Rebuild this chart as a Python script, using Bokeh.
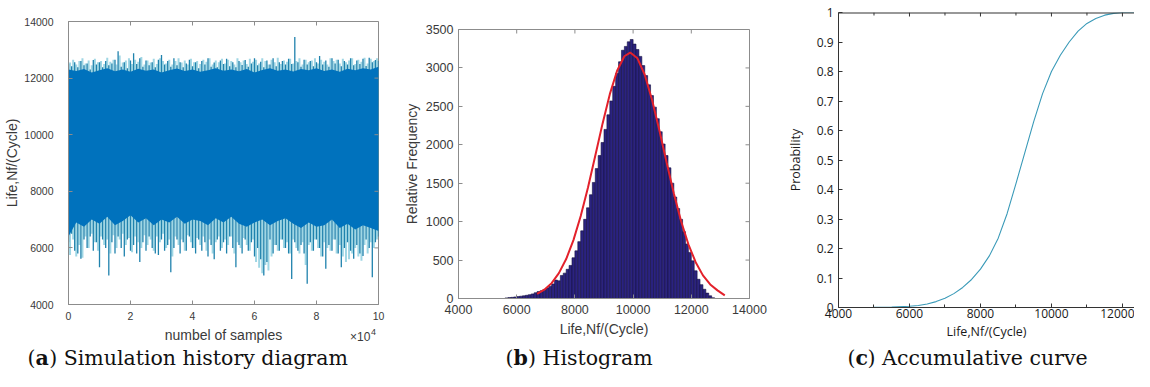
import numpy as np
from bokeh.plotting import figure
from bokeh.layouts import row, column
from bokeh.models import (FixedTicker, Label, Range1d, ColumnDataSource,
                          PrintfTickFormatter, Span)
from bokeh.embed import file_html
from bokeh.resources import INLINE

# ---------------- (a) simulation history: read-off envelopes ----------------
# spikes every 0.1 x 10^4 samples (top and bottom extremes of the trace)
top_spike = [12500, 12420, 12560, 12380, 12600, 12450, 12520, 12300, 12640, 12480,
             12560, 12380, 12600, 12450, 12520, 12650, 12950, 12400, 12560, 12350,
             12620, 12880, 12500, 12700, 12400, 12620, 12450, 12560, 12380, 12650,
             12820, 12480, 12600, 12400, 12700, 12450, 12560, 12380, 12520, 12650,
             12420, 12560, 12350, 12600, 12480, 12700, 12400, 12550, 12380, 12620,
             12500, 12680, 12420, 12560, 12380, 12600, 12460, 12640, 12400, 12520,
             12700, 12450, 12580, 12380, 12620, 12480, 12700, 12420, 12560, 12600,
             12480, 12680, 12500, 13450, 12560, 12400, 12650, 12480, 12600, 12420,
             12560, 12780, 12480, 12620, 12400, 12700, 12520, 12650, 12420, 12600,
             12480, 12700, 12450, 12620, 12500, 12680, 12430, 12720, 12560, 12640,
             12600]
bottom_spike = [6200, 6500, 5900, 5800, 5620, 6300, 6000, 6400, 5900, 6200,
                5320, 6300, 6000, 5025, 6200, 5800, 6400, 6000, 5700, 6300,
                5900, 6100, 5800, 5500, 6200, 5900, 6400, 6000, 5800, 5750,
                6300, 5900, 6100, 5140, 6000, 6300, 5800, 6200, 5900, 6400,
                6000, 5800, 6300, 5900, 6200, 5700, 6100, 5600, 6300, 5900,
                6200, 5800, 6400, 6000, 5320, 6100, 5800, 6300, 5900, 6200,
                5700, 6000, 5600, 5025, 5500, 6300, 5800, 6100, 5900, 6300,
                6000, 5800, 4900, 6200, 5900, 6100, 5800, 4730, 6200, 5900,
                6300, 6000, 5700, 5260, 6100, 5900, 6300, 5800, 5320, 6000,
                6200, 5900, 5620, 6100, 5800, 5710, 6300, 6000, 4960, 6200,
                6400]
# lighter trace excursions, half-way between the above
light_top = [12550, 12650, 12480, 12600, 12700, 12520, 12620, 12450, 12680, 12560,
             12600, 12500, 12720, 12580, 12650, 12480, 12800, 12550, 12620, 12700,
             12500, 12650, 12580, 12750, 12480, 12620, 12550, 12680, 12500, 12700,
             12600, 12520, 12650, 12480, 12600, 12700, 12550, 12620, 12480, 12680,
             12560, 12600, 12500, 12650, 12580, 12700, 12480, 12620, 12560, 12680,
             12520, 12650, 12600, 12480, 12700, 12560, 12620, 12500, 12680, 12580,
             12650, 12520, 12700, 12600, 12480, 12650, 12560, 12720, 12500, 12620,
             12580, 12680, 12520, 12600, 12700, 12480, 12650, 12560, 12620, 12700,
             12520, 12650, 12580, 12480, 12700, 12600, 12650, 12520, 12680, 12560,
             12620, 12700, 12500, 12650, 12580, 12720, 12520, 12680, 12600, 12700]
light_bottom = [5750, 6300, 5700, 6100, 5650, 6400, 6000, 6500, 6200, 5900,
                6400, 6100, 6300, 5800, 6450, 6000, 6300, 6500, 6100, 6350,
                5850, 6400, 6200, 6000, 6450, 6100, 6300, 5900, 6400, 6200,
                6500, 6000, 6300, 5700, 6400, 6100, 6300, 5900, 6450, 6200,
                6000, 6350, 6100, 6400, 5900, 6300, 5800, 6200, 6400, 6000,
                6300, 6100, 6400, 5800, 6200, 6000, 6350, 6100, 5900, 6300,
                5500, 5300, 5100, 5400, 5200, 5700, 6100, 5900, 6300, 6000,
                6200, 5800, 6300, 6000, 5800, 6200, 5400, 6100, 5900, 6300,
                6000, 5700, 6200, 6000, 5900, 6300, 5800, 6100, 5700, 5500,
                5600, 5800, 6000, 5700, 5550, 6100, 5800, 6200, 6000, 6300]
# dense core of the trace every 0.25 x 10^4 samples
core_top = [12300, 12250, 12320, 12200, 12280, 12350, 12240, 12300, 12220, 12330,
            12260, 12300, 12200, 12280, 12340, 12250, 12300, 12220, 12280, 12350,
            12260, 12300, 12240, 12320, 12200, 12290, 12350, 12260, 12300, 12230,
            12320, 12280, 12350, 12250, 12300, 12220, 12330, 12280, 12350, 12300,
            12400]
core_bottom = [6400, 6900, 6750, 7000, 6850, 7100, 6800, 6950, 7150, 6900,
               7050, 6800, 7000, 6900, 7100, 6850, 7000, 6950, 6800, 7050,
               6900, 7100, 6850, 6750, 6900, 7000, 6800, 6950, 7050, 6850,
               6700, 6900, 6750, 6800, 7000, 6700, 6850, 6650, 6800, 6700,
               6600]
spike_k = [0.1 * i for i in range(len(top_spike))]          # in units of 10^4 samples
light_k = [0.1 * i + 0.05 for i in range(len(light_top))]
core_k = [0.25 * i for i in range(len(core_top))]
a_xticks = [0, 2, 4, 6, 8, 10]
a_yticks = [4000, 6000, 8000, 10000, 12000, 14000]

# ---------------- (b) histogram ----------------
bin_left = list(range(5600, 12800, 100))
counts = [8, 12, 15, 20, 25, 30, 35, 42, 50, 60,
          75, 90, 100, 115, 135, 160, 190, 240, 230, 300,
          330, 380, 430, 530, 620, 740, 880, 1030, 1180, 1350,
          1510, 1690, 1860, 2030, 2200, 2390, 2570, 2760, 2930, 3080,
          3230, 3280, 3340, 3370, 3310, 3240, 3150, 3030, 2900, 2780,
          2640, 2490, 2340, 2170, 2010, 1860, 1700, 1500, 1320, 1170,
          1030, 870, 710, 600, 490, 360, 250, 180, 120, 70,
          35, 10]
bin_width = 100
fit_x = [6700, 6950, 7200, 7450, 7700, 7950, 8200, 8450, 8700, 8950, 9200, 9450, 9700,
         9900, 10150, 10400, 10650, 10900, 11150, 11400, 11650, 11900, 12150, 12400,
         12650, 12900, 13150]
fit_y = [60, 115, 200, 330, 513, 760, 1073, 1445, 1857, 2275, 2659, 2964, 3152,
         3200, 3125, 2911, 2587, 2193, 1772, 1367, 1005, 705, 472, 301,
         183, 106, 40]
b_xticks = [4000, 6000, 8000, 10000, 12000, 14000]
b_yticks = [0, 500, 1000, 1500, 2000, 2500, 3000, 3500]

# ---------------- (c) cumulative curve ----------------
cdf_x = [4250, 5000, 5500, 6000, 6250, 6500, 6750, 7000, 7250, 7500, 7750, 8000, 8250,
         8500, 8750, 9000, 9250, 9500, 9750, 10000, 10250, 10500, 10750, 11000,
         11250, 11500, 11750, 12000, 12560]
cdf_p = [0.0, 0.0003, 0.0012, 0.004, 0.007, 0.012, 0.020, 0.031, 0.047, 0.068, 0.095,
         0.130, 0.175, 0.235, 0.318, 0.420, 0.525, 0.630, 0.725, 0.800, 0.855, 0.900,
         0.937, 0.963, 0.980, 0.991, 0.997, 1.0, 1.0]
c_xticks = [4000, 6000, 8000, 10000, 12000]
c_xminor = [5000, 7000, 9000, 11000]
c_yticks = [0.0, 0.1, 0.2, 0.3, 0.4, 0.5, 0.6, 0.7, 0.8, 0.9, 1.0]

captions = [("(", "a", ") Simulation history diagram"),
            ("(", "b", ") Histogram"),
            ("(", "c", ") Accumulative curve")]


def style_axes(p, xticks, yticks, font, tsize, lsize, line_col, text_col,
               xlabel, ylabel, xminor=None):
    p.xgrid.visible = False
    p.ygrid.visible = False
    p.outline_line_color = line_col
    for ax in (p.xaxis[0], p.yaxis[0]):
        ax.axis_line_color = line_col
        ax.major_tick_line_color = line_col
        ax.minor_tick_line_color = line_col
        ax.major_tick_in = 4
        ax.major_tick_out = 0
        ax.minor_tick_in = 0
        ax.minor_tick_out = 0
        ax.major_label_text_font = font
        ax.major_label_text_font_size = tsize
        ax.major_label_text_color = text_col
        ax.axis_label_text_font = font
        ax.axis_label_text_font_size = lsize
        ax.axis_label_text_color = text_col
        ax.axis_label_text_font_style = "normal"
    p.xaxis[0].ticker = FixedTicker(ticks=xticks, minor_ticks=xminor or [])
    if xminor:
        p.xaxis[0].minor_tick_in = 3
    p.yaxis[0].ticker = FixedTicker(ticks=yticks)
    p.xaxis[0].axis_label = xlabel
    p.yaxis[0].axis_label = ylabel


def mirror_ticks(p, xr, yr, fw, fh, xticks, yticks, color, right=True, xminor=()):
    """MATLAB-style inward ticks on the top (and right) edge of the box."""
    (x0, x1), (y0, y1) = xr, yr
    dy = 4 * (y1 - y0) / fh
    dx = 4 * (x1 - x0) / fw
    xs0, ys0, xs1, ys1 = [], [], [], []
    for t in xticks:
        xs0.append(t); ys0.append(y1); xs1.append(t); ys1.append(y1 - dy)
    for t in xminor:
        xs0.append(t); ys0.append(y1); xs1.append(t); ys1.append(y1 - 0.75 * dy)
    if right:
        for t in yticks:
            xs0.append(x1); ys0.append(t); xs1.append(x1 - dx); ys1.append(t)
    p.segment(x0=xs0, y0=ys0, x1=xs1, y1=ys1, line_color=color, line_width=1)


def strip(width, height, xr, yr, left=0, right=0):
    s = figure(title=None, width=width, height=height,
               x_range=Range1d(*xr), y_range=Range1d(*yr),
               x_axis_type=None, y_axis_type=None, min_border=0,
               min_border_left=left, min_border_right=right,
               output_backend="svg", toolbar_location=None)
    s.xgrid.visible = False
    s.ygrid.visible = False
    s.outline_line_color = None
    return s


grey = "#8c8c8c"
txt = "#3a3a3a"
sans = "Liberation Sans"

# ---------------- figure (a) ----------------
a_xr, a_yr = (0, 10), (4000, 14000)
pa = figure(width=390, height=324,
            min_border_left=68, min_border_right=12, min_border_top=21, min_border_bottom=20,
            x_range=Range1d(*a_xr), y_range=Range1d(*a_yr),
            output_backend="svg", toolbar_location=None)
style_axes(pa, a_xticks, a_yticks, sans, "10.5px", "14px", grey, txt,
           None, "Life,Nf/(Cycle)")
pa.xaxis[0].major_label_standoff = 7
pa.yaxis[0].major_label_standoff = 15
pa.yaxis[0].axis_label_standoff = 1

light_src = ColumnDataSource(dict(x=light_k, lo=light_bottom[:len(light_k)], hi=light_top))
pa.segment(x0="x", y0="lo", x1="x", y1="hi", source=light_src, line_color="#9fd6e4", line_width=2)
spike_src = ColumnDataSource(dict(x=spike_k, lo=bottom_spike, hi=top_spike))
pa.segment(x0="x", y0="lo", x1="x", y1="hi", source=spike_src, line_color="#1f82ad", line_width=1.3)
pa.varea(x=core_k, y1=core_bottom, y2=core_top, fill_color="#0072BD")
mirror_ticks(pa, a_xr, a_yr, 310, 283, a_xticks, a_yticks, grey)

# strip under (a) (its frame lines up with the frame of (a)) for axis title and exponent
sa = strip(390, 20, a_xr, (0, 20), left=68, right=12)
sa.add_layout(Label(x=5, y=10, text="numbel of samples", text_align="center",
                    text_baseline="middle", text_font=sans, text_font_size="14px",
                    text_color=txt))
sa.add_layout(Label(x=9.74, y=8, text="×10", text_align="right",
                    text_baseline="middle", text_font=sans, text_font_size="12px",
                    text_color=txt))
sa.add_layout(Label(x=9.76, y=12.5, text="4", text_align="left",
                    text_baseline="middle", text_font=sans, text_font_size="9px",
                    text_color=txt))

# ---------------- figure (b) ----------------
b_xr, b_yr = (4000, 14000), (0, 3500)
pb = figure(width=380, height=344,
            min_border_left=68, min_border_right=21, min_border_top=29, min_border_bottom=46,
            x_range=Range1d(*b_xr), y_range=Range1d(*b_yr),
            output_backend="svg", toolbar_location=None)
style_axes(pb, b_xticks, b_yticks, sans, "12.5px", "14px", grey, txt,
           "Life,Nf/(Cycle)", "Relative Frequency")
pb.xaxis[0].major_label_standoff = 6
pb.xaxis[0].axis_label_standoff = 4
pb.yaxis[0].major_label_standoff = 5
pb.yaxis[0].axis_label_standoff = 3
hist_src = ColumnDataSource(dict(left=bin_left, right=[b + bin_width for b in bin_left], top=counts))
pb.quad(left="left", right="right", bottom=0, top="top", source=hist_src,
        fill_color="#2b2380", line_color="#15103f", line_width=0.6)
pb.line(fit_x, fit_y, line_color="#e3212b", line_width=2)
mirror_ticks(pb, b_xr, b_yr, 291, 269, b_xticks, b_yticks, grey)

# ---------------- figure (c) ----------------
cfont = "Open Sans"
c_xr, c_yr = (4000, 12340), (0, 1)
pc = figure(width=364, height=344,
            min_border_left=68, min_border_right=0, min_border_top=12, min_border_bottom=37,
            x_range=Range1d(*c_xr), y_range=Range1d(*c_yr),
            output_backend="svg", toolbar_location=None)
style_axes(pc, c_xticks, c_yticks, cfont, "12px", "12.5px", "#333333", "#1a1a1a",
           "Life,Nf/(Cycle)", "Probability", xminor=c_xminor)
pc.outline_line_color = None
pc.yaxis[0].formatter = PrintfTickFormatter(format="%g")
pc.xaxis[0].major_label_standoff = 1
pc.xaxis[0].axis_label_standoff = 2
pc.yaxis[0].major_label_standoff = 5
pc.yaxis[0].axis_label_standoff = 10
pc.add_layout(Span(location=1, dimension="width", line_color="#333333", line_width=2))
pc.line(cdf_x, cdf_p, line_color="#3a9ab8", line_width=1.1)
mirror_ticks(pc, c_xr, c_yr, 296, 295, c_xticks, c_yticks, "#333333", right=False,
             xminor=c_xminor)

# ---------------- captions ----------------
cap = strip(1134, 27, (0, 1134), (0, 27))
serif = "DejaVu Serif"
fs = 20.5
cap_x0 = [27, 505, 847]
bold_w = [13.7, 14.5, 12.1]
cap_y = 14
for (open_p, letter, rest), x0, bw in zip(captions, cap_x0, bold_w):
    cap.add_layout(Label(x=x0, y=cap_y, text=open_p, text_font=serif, text_font_size=f"{fs}px",
                         text_color="#111111", text_baseline="middle"))
    cap.add_layout(Label(x=x0 + 0.39 * fs, y=cap_y, text=letter, text_font=serif,
                         text_font_size=f"{fs}px", text_font_style="bold",
                         text_color="#111111", text_baseline="middle"))
    cap.add_layout(Label(x=x0 + 0.39 * fs + bw, y=cap_y, text=rest, text_font=serif,
                         text_font_size=f"{fs}px", text_color="#111111",
                         text_baseline="middle"))

panels = row(column(pa, sa, spacing=0), column(pb), column(pc), spacing=0)
layout = column(panels, cap, spacing=0)
open("out.html", "w").write(file_html(layout, INLINE))
